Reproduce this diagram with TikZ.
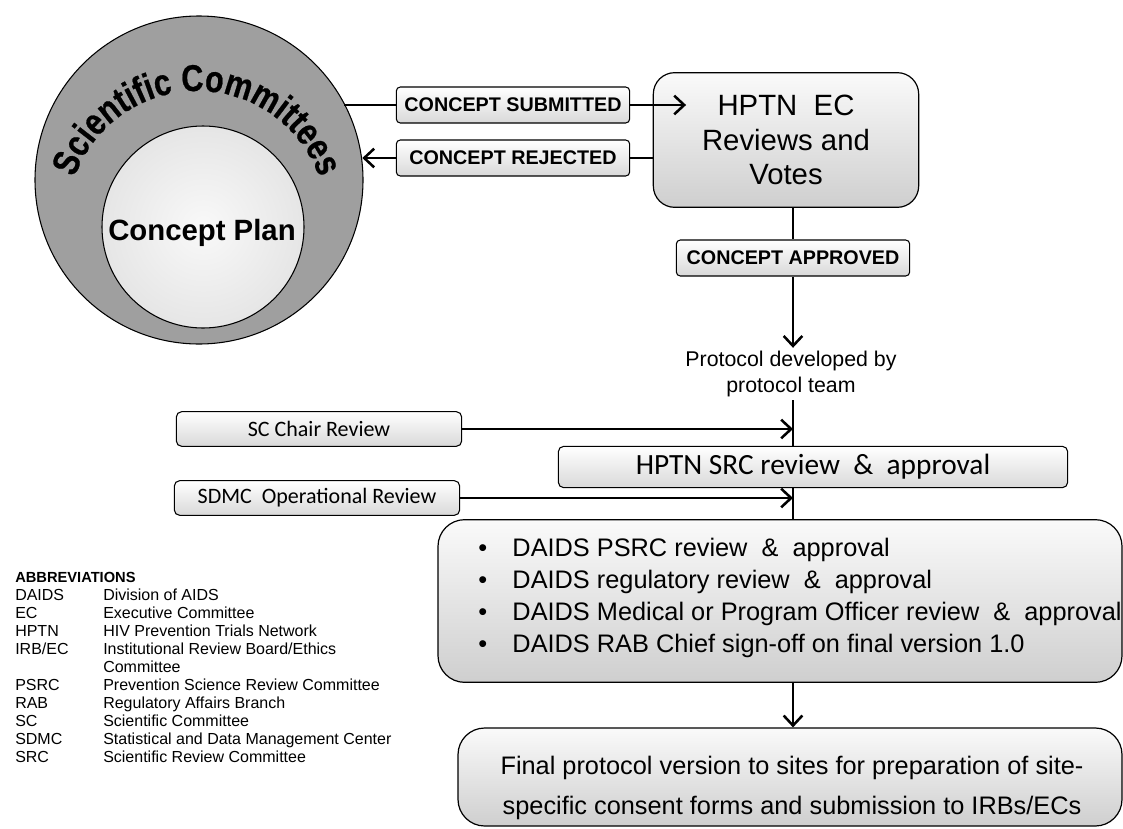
\documentclass[tikz,border=0pt]{standalone}
\usepackage{fontspec}
\setmainfont{Liberation Sans}
\newfontfamily\calfont{Carlito}
\newfontfamily\arcfont[FakeStretch=0.82,FakeBold=0.6]{Liberation Sans Bold}
\usetikzlibrary{arrows.meta,decorations.text}

\begin{document}
\begin{tikzpicture}[x=0.75pt,y=-0.75pt,
    tag/.style={draw, line width=0.8pt, rounded corners=3pt, top color=white, bottom color=gray!30,
      minimum width=175pt, minimum height=27pt, inner sep=0pt, font=\fontsize{14.8}{16}\selectfont\bfseries},
    bigbox/.style={draw, line width=0.9pt, rounded corners=16pt, top color=gray!4, bottom color=gray!38, inner sep=0pt},
    sidebox/.style={draw, line width=0.8pt, rounded corners=4pt, top color=white, bottom color=gray!30,
      minimum width=214pt, minimum height=26pt, inner sep=0pt, font=\calfont\fontsize{16.5}{18}\selectfont},
    flow/.style={line width=1.9pt},
    arr/.style={line width=1.9pt, -{Straight Barb[length=7.5pt,width=14pt]}}]
  \useasboundingbox (0,0) rectangle (1123,828);

  \node[circle, draw, line width=0.8pt, fill=gray!75, minimum size=246pt] (sc) at (199,180) {};
  \path[decorate, decoration={text along path, text align=center,
      text={|\arcfont\fontsize{28}{28}\selectfont|Scientific Committees}}]
    (197,221) ++(199:130) arc[start angle=199, end angle=341, radius=130];
  \node[circle, draw, line width=0.8pt, inner color=gray!5, outer color=gray!20, minimum size=151.5pt] (plan) at (203,227) {};
  \node[font=\fontsize{22}{24}\selectfont\bfseries] (plantext) at (202,233) {Concept Plan};

  \node[tag] (sub) at (513,105) {CONCEPT SUBMITTED};
  \node[tag] (rej) at (513,158) {CONCEPT REJECTED};
  \node[bigbox, minimum width=199pt, minimum height=101pt, align=center,
    font=\fontsize{22}{26}\selectfont] (ec) at (786,140) {HPTN\ \ EC\\Reviews and\\Votes};
  \node[tag] (appr) at (793,258) {CONCEPT APPROVED};
  \node[align=center, inner sep=2pt, font=\fontsize{16}{20}\selectfont] (proto) at (791,374)
    {Protocol developed by\\protocol team};

  \draw[flow] (sub.west -| sc.28) -- (sub.west);
  \draw[arr] (sub.east) -- ([xshift=25pt]sub.east -| ec.west);
  \draw[flow] (rej.east -| ec.west) -- (rej.east);
  \draw[arr] (rej.west) -- (rej.west -| sc.7);
  \draw[flow] (ec.south -| appr) -- (appr.north);
  \draw[arr] (appr.south) -- (appr.south |- proto.north);

  \node[sidebox] (chair) at (319,429) {SC Chair Review};
  \node[sidebox, minimum width=382pt, minimum height=31pt, font=\calfont\fontsize{22}{24}\selectfont]
    (src) at (813,467) {HPTN\ SRC\ review\ \ \&\ \ approval};
  \node[sidebox] (sdmc) at (317,498) {SDMC\ \ Operational Review};

  \node[bigbox, rounded corners=20pt, minimum width=513pt, minimum height=122pt] (daids) at (780,601) {};
  \node[anchor=west, align=left, inner sep=0pt, font=\fontsize{19}{24}\selectfont] (items) at (478,598)
    {\textbullet\hspace{19pt}DAIDS PSRC review\ \ \&\ \ approval\\
     \textbullet\hspace{19pt}DAIDS regulatory review\ \ \&\ \ approval\\
     \textbullet\hspace{19pt}DAIDS Medical or Program Officer review\ \ \&\ \ approval\\
     \textbullet\hspace{19pt}DAIDS RAB Chief sign-off on final version 1.0};

  \node[bigbox, rounded corners=20pt, minimum width=498pt, minimum height=73.5pt] (final) at (790,777) {};
  \node[align=center, inner sep=0pt, font=\fontsize{19}{29.5}\selectfont] (finaltext) at (792,788)
    {Final protocol version to sites for preparation of site-\\specific consent forms and submission to IRBs/ECs};

  \draw[flow] (proto.south -| appr) -- (src.north -| appr);
  \draw[arr] (chair.east) -- (chair.east -| appr);
  \draw[flow] (src.south -| appr) -- (daids.north -| appr);
  \draw[arr] (sdmc.east) -- (sdmc.east -| appr);
  \draw[arr] (daids.south -| appr) -- (final.north -| appr);

  \node[anchor=north west, inner sep=0pt, font=\fontsize{12}{13.5}\selectfont] (abbr) at (15,570)
    {\begin{tabular}{@{}p{66pt}@{}l@{}}
      \multicolumn{2}{@{}l@{}}{\fontsize{11}{13.5}\selectfont\textbf{ABBREVIATIONS}}\\
      DAIDS & Division of AIDS\\
      EC & Executive Committee\\
      HPTN & HIV Prevention Trials Network\\
      IRB/EC & Institutional Review Board/Ethics\\
       & Committee\\
      PSRC & Prevention Science Review Committee\\
      RAB & Regulatory Affairs Branch\\
      SC & Scientific Committee\\
      SDMC & Statistical and Data Management Center\\
      SRC & Scientific Review Committee
    \end{tabular}};
\end{tikzpicture}
\end{document}
